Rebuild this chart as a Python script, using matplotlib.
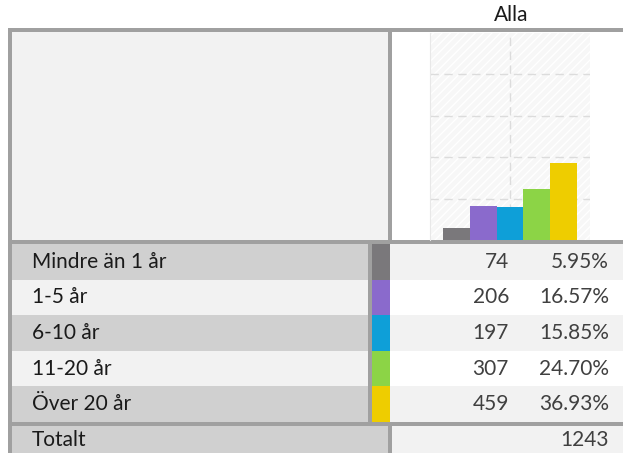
import matplotlib
matplotlib.use("Agg")
import matplotlib.pyplot as plt
from matplotlib.patches import Rectangle

# Data
categories = ["Mindre än 1 år", "1-5 år", "6-10 år", "11-20 år", "Över 20 år"]
counts = [74, 206, 197, 307, 459]
percent_labels = ["5.95%", "16.57%", "15.85%", "24.70%", "36.93%"]
colors = ["#7a787b", "#8a6acc", "#0e9fd8", "#8cd446", "#eecd00"]
column_title = "Alla"
total_label = "Totalt"
total = sum(counts)

plt.rcParams['font.family'] = ['Lato', 'DejaVu Sans']

W, H = 623, 453
fig = plt.figure(figsize=(W / 100, H / 100), dpi=100)

# pixel canvas for the table layout
bg = fig.add_axes([0, 0, 1, 1])
bg.set_xlim(0, W)
bg.set_ylim(H, 0)
bg.axis("off")

border = "#a0a0a0"
dark = "#d0d0d0"
light = "#f2f2f2"
fs = 15


def box(x0, y0, x1, y1, color):
    bg.add_patch(Rectangle((x0, y0), x1 - x0, y1 - y0, facecolor=color,
                           edgecolor="none", zorder=1))


# outer frame of the header block
box(8, 28, W, 244, border)
box(12, 32, 388, 240, light)
box(392, 32, W, 240, "white")

# rows
row_top = 244
row_h = 35.6
box(8, 240, 372, 426, border)
for i, (cat, n, p, c) in enumerate(zip(categories, counts, percent_labels, colors)):
    y0 = row_top + i * row_h
    y1 = y0 + row_h
    box(12, y0, 368, y1, dark if i % 2 == 0 else light)
    box(372, y0, 390, y1, c)
    box(390, y0, W, y1, light if i % 2 == 0 else "white")
    yc = (y0 + y1) / 2
    bg.text(32, yc, cat, fontsize=fs, color="#1a1a1a", va="center", ha="left", zorder=3)
    bg.text(509, yc, str(n), fontsize=fs, color="#404040", va="center", ha="right", zorder=3)
    bg.text(609, yc, p, fontsize=fs, color="#404040", va="center", ha="right", zorder=3)

# total row
box(8, 422, W, H, border)
box(12, 426, 388, H, dark)
box(392, 426, W, H, light)
bg.text(32, 440, total_label, fontsize=fs, color="#1a1a1a", va="center", ha="left", zorder=3)
bg.text(609, 440, str(total), fontsize=fs, color="#404040", va="center", ha="right", zorder=3)

bg.text(511, 15, column_title, fontsize=fs, color="#1a1a1a", va="center", ha="center")

# bar chart
ax = fig.add_axes([430 / W, 1 - 240 / H, 160 / W, (240 - 32.7) / H])
ax.set_facecolor("#f7f7f7")
ax.add_patch(Rectangle((0, 0), 1, 1, transform=ax.transAxes, facecolor="none",
                       edgecolor="#ffffff", hatch="////", linewidth=0, zorder=0))
pct = [n / total * 100 for n in counts]
ax.bar(range(len(counts)), pct, width=1.0, color=colors, zorder=3)
ax.set_xlim(-1, 5)
ax.set_ylim(0, 100)
ax.set_yticks([20, 40, 60, 80])
ax.set_xticks([2])
ax.grid(True, color="#dcdcdc", linestyle=(0, (6, 4)), linewidth=1, zorder=1)
ax.tick_params(length=0, labelleft=False, labelbottom=False)
for s in ax.spines.values():
    s.set_visible(False)
ax.spines["left"].set_visible(True)
ax.spines["left"].set_color("#e8e8e8")

fig.savefig("out.png", dpi=100)
